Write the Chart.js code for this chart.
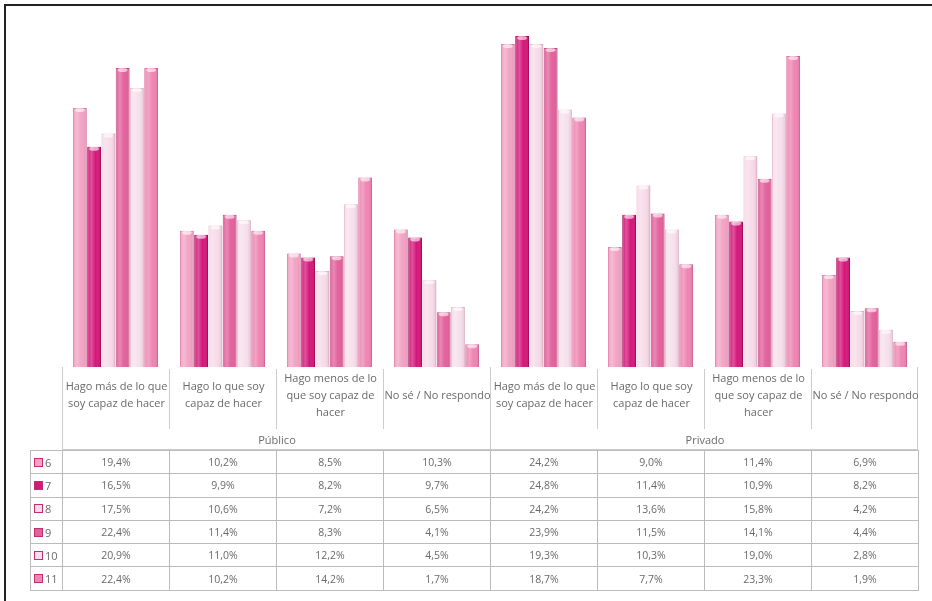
<!DOCTYPE html>
<html>
<head>
<meta charset="utf-8">
<script src="https://cdn.jsdelivr.net/npm/chart.js@4"></script>
<style>
  html, body { margin: 0; padding: 0; background: #fff; }
  body { width: 932px; height: 601px; position: relative; overflow: hidden; font-family: "Open Sans", sans-serif; color: #6a6a6a; }
  #frame { position: absolute; left: 4px; top: 4px; width: 940px; height: 620px; border: 2px solid #222; box-sizing: border-box; }
  #chartBox { position: absolute; left: 0; top: 0; width: 932px; height: 368px; }
  #head { position: absolute; left: 62px; top: 367px; width: 856px; height: 83px; border: 1px solid #ccc; border-top: none; box-sizing: border-box; }
  .cat { position: absolute; top: 0px; width: 107px; height: 54px; display: flex; align-items: center; justify-content: center; text-align: center; font-size: 11px; line-height: 17px; }
  .sep { position: absolute; top: 2px; width: 1px; height: 60px; background: #ccc; }
  .grp { position: absolute; top: 65px; width: 428px; text-align: center; font-size: 11px; }
  #tbl { position: absolute; left: 30px; top: 450px; border-collapse: collapse; }
  #tbl td { border: 1px solid #bbb; height: 23.3px; padding: 0; font-size: 10.5px; text-align: center; box-sizing: border-box; }
  #tbl td.lab { width: 32px; text-align: left; padding-left: 3px; font-size: 11px; }
  #tbl td.val { width: 107px; }
  .key { display: inline-block; width: 7px; height: 7px; margin-right: 2px; vertical-align: 0px; border: 1px solid #c0306f; }
</style>
</head>
<body>
<div id="chartBox"><canvas id="myChart"></canvas></div>
<div id="head"></div>
<table id="tbl"></table>
<div id="frame"></div>
<script>
// categorias y grupos
const categories = ['Hago más de lo que soy capaz de hacer', 'Hago lo que soy capaz de hacer', 'Hago menos de lo que soy capaz de hacer', 'No sé / No respondo',
                    'Hago más de lo que soy capaz de hacer', 'Hago lo que soy capaz de hacer', 'Hago menos de lo que soy capaz de hacer', 'No sé / No respondo'];
const groups = ['Público', 'Privado'];
const seriesNames = ['6', '7', '8', '9', '10', '11'];

// valores (%) por grado
const s6  = [19.4, 10.2, 8.5, 10.3, 24.2, 9.0, 11.4, 6.9];
const s7  = [16.5, 9.9, 8.2, 9.7, 24.8, 11.4, 10.9, 8.2];
const s8  = [17.5, 10.6, 7.2, 6.5, 24.2, 13.6, 15.8, 4.2];
const s9  = [22.4, 11.4, 8.3, 4.1, 23.9, 11.5, 14.1, 4.4];
const s10 = [20.9, 11.0, 12.2, 4.5, 19.3, 10.3, 19.0, 2.8];
const s11 = [22.4, 10.2, 14.2, 1.7, 18.7, 7.7, 23.3, 1.9];

const allSeries = [s6, s7, s8, s9, s10, s11];
const colors  = ['#f2a3c4', '#d4187a', '#f7dbe8', '#e2619c', '#f6e0eb', '#ee85b2'];
const borders = ['#e07aa6', '#a80f5c', '#e6b8cc', '#c24680', '#e8c2d4', '#d8689a'];

// brillo tipo cilindro
const shine = {
  id: 'shine',
  afterDatasetsDraw(chart) {
    const c = chart.ctx;
    chart.data.datasets.forEach((ds, di) => {
      chart.getDatasetMeta(di).data.forEach(bar => {
        const w = bar.width, x0 = bar.x - w / 2, top = bar.y, h = bar.base - bar.y;
        const g = c.createLinearGradient(x0, 0, x0 + w, 0);
        g.addColorStop(0, 'rgba(255,255,255,0)');
        g.addColorStop(0.3, 'rgba(255,255,255,0.25)');
        g.addColorStop(0.6, 'rgba(255,255,255,0)');
        g.addColorStop(1, 'rgba(120,0,50,0.15)');
        c.fillStyle = g;
        c.fillRect(x0, top, w, h);
        c.fillStyle = 'rgba(255,255,255,0.6)';
        c.beginPath();
        c.ellipse(bar.x, top + 2, w / 2 - 2, 2, 0, 0, Math.PI * 2);
        c.fill();
      });
    });
  }
};

new Chart(document.getElementById('myChart'), {
  type: 'bar',
  data: {
    labels: categories,
    datasets: allSeries.map((vals, i) => ({
      label: seriesNames[i],
      data: vals,
      backgroundColor: colors[i],
      borderColor: borders[i],
      borderWidth: 1,
      categoryPercentage: 0.8,
      barPercentage: 0.97
    }))
  },
  options: {
    responsive: true,
    maintainAspectRatio: false,
    animation: false,
    layout: { padding: { left: 62, right: 14, top: 20, bottom: 1 } },
    plugins: { legend: { display: false }, tooltip: { enabled: false } },
    scales: {
      x: { display: false },
      y: { display: false, min: 0, max: 26, beginAtZero: true }
    }
  },
  plugins: [shine]
});

// encabezado de la tabla
const head = document.getElementById('head');
categories.forEach((c, i) => {
  const d = document.createElement('div');
  d.className = 'cat';
  d.style.left = (i * 107) + 'px';
  d.textContent = c;
  head.appendChild(d);
  if (i > 0) {
    const s = document.createElement('div');
    s.className = 'sep';
    s.style.left = (i * 107 - 1) + 'px';
    if (i === 4) { s.style.top = '0px'; s.style.height = '83px'; }
    head.appendChild(s);
  }
});
groups.forEach((g, i) => {
  const d = document.createElement('div');
  d.className = 'grp';
  d.style.left = (i * 428) + 'px';
  d.textContent = g;
  head.appendChild(d);
});

// filas de datos
const tbl = document.getElementById('tbl');
allSeries.forEach((vals, i) => {
  const tr = document.createElement('tr');
  const lab = document.createElement('td');
  lab.className = 'lab';
  lab.innerHTML = '<span class="key" style="background:' + colors[i] + '"></span>' + seriesNames[i];
  tr.appendChild(lab);
  vals.forEach(v => {
    const td = document.createElement('td');
    td.className = 'val';
    td.textContent = v.toFixed(1).replace('.', ',') + '%';
    tr.appendChild(td);
  });
  tbl.appendChild(tr);
});
</script>
</body>
</html>
